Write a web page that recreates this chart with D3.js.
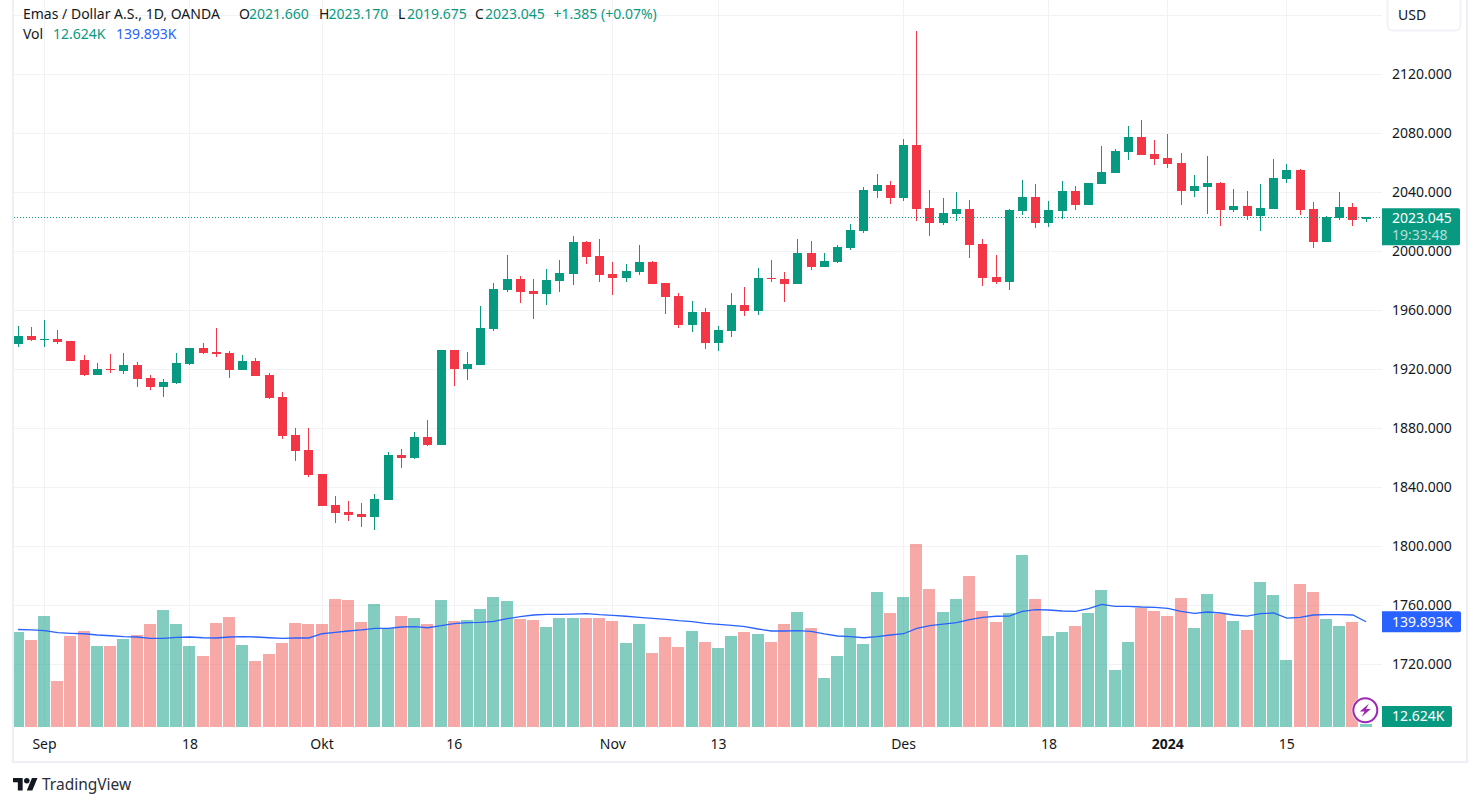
<!DOCTYPE html>
<html>
<head>
<meta charset="utf-8">
<script src="https://cdn.jsdelivr.net/npm/d3@7"></script>
<style>
  body { margin: 0; background: #fff; }
  svg { display: block; }
  text { font-family: "Noto Sans", Roboto, sans-serif; }
</style>
</head>
<body>
<svg id="chart" width="1480" height="806"></svg>
<script>
const opens = [
  1937.2, 1942.6, 1939.9, 1940.6, 1939.2, 1926.3, 1916.2, 1920.2, 1918.9, 1922.9,
  1914.1, 1908, 1910.7, 1923.6, 1934.5, 1931.8, 1931.1, 1919.5, 1925.6, 1916.2,
  1901.2, 1875.5, 1865.3, 1849, 1828, 1823.3, 1821.9, 1819.9, 1831.4, 1861.9,
  1859.9, 1874.1, 1868.7, 1933.1, 1920.2, 1922.9, 1947.3, 1973.8, 1981.2, 1973.1,
  1971.1, 1979.9, 1984.6, 2006.3, 1996.8, 1984.6, 1981.9, 1986, 1992.8, 1978.5,
  1969.7, 1950.1, 1958.9, 1937.9, 1946, 1963.6, 1959.5, 1981.9, 1981.2, 1977.9,
  1998.9, 1989.4, 1992.8, 2002.3, 2013.8, 2040.9, 2045, 2036.2, 2072.1, 2029.4,
  2019.2, 2025.3, 2028.7, 2005, 1982.6, 1979.2, 2027.3, 2036.8, 2019.2, 2027.3,
  2040.9, 2031.4, 2045.6, 2053.1, 2067.3, 2077.5, 2066, 2063.3, 2059.9, 2040.9,
  2043.6, 2046.3, 2028, 2030.7, 2024, 2028.7, 2049, 2055.1, 2028.7, 2006.3,
  2022.6, 2030.1, 2021.66,
];
const closes = [
  1942.6, 1939.9, 1940.6, 1938.5, 1925.6, 1916.2, 1920.2, 1919.5, 1922.9, 1913.4,
  1908, 1911.4, 1924.3, 1934.5, 1931.1, 1930.4, 1919.5, 1925.6, 1915.5, 1900.6,
  1874.8, 1864.6, 1848.4, 1827.3, 1822.6, 1821.2, 1819.9, 1832.1, 1861.9, 1859.9,
  1874.1, 1868.7, 1933.1, 1920.2, 1923.6, 1948, 1974.5, 1981.2, 1972.4, 1971.1,
  1980.6, 1985.3, 2006.3, 1996.2, 1984, 1981.9, 1986.7, 1992.8, 1977.9, 1969,
  1950.1, 1958.9, 1937.9, 1946.7, 1963.6, 1959.5, 1981.9, 1981.2, 1977.9, 1998.9,
  1989.4, 1993.4, 2002.9, 2014.5, 2041.6, 2045, 2036.2, 2072.1, 2028.7, 2019.2,
  2026, 2028.7, 2004.3, 1981.9, 1979.2, 2028, 2036.8, 2019.2, 2028, 2040.9,
  2031.4, 2046.3, 2053.8, 2068, 2077.5, 2065.3, 2062.6, 2059.3, 2040.9, 2044.3,
  2046.3, 2028, 2030.7, 2024, 2029.4, 2049.7, 2055.1, 2028, 2006.3, 2023.3,
  2030.1, 2021.2, 2023.045,
];
const highs = [
  1949.4, 1948.7, 1953.4, 1946.7, 1939.2, 1929.7, 1924.3, 1930.4, 1931.1, 1925,
  1916.2, 1913.4, 1931.1, 1934.5, 1937.9, 1948, 1932.4, 1929.7, 1927.7, 1917.5,
  1904.6, 1880.2, 1880.2, 1849, 1834.1, 1830.7, 1829.4, 1835.5, 1864, 1866,
  1877.5, 1885.6, 1933.1, 1933.1, 1931.8, 1962.9, 1978.5, 1997.5, 1983.3, 1981.2,
  1988, 1994.1, 2010.4, 2007, 2008.4, 1992.8, 1991.4, 2004.3, 1993.4, 1978.5,
  1971.8, 1966.3, 1961.6, 1949.4, 1971.8, 1975.8, 1988.7, 1994.1, 1986, 2008.4,
  2007, 1998.9, 2004.3, 2018.5, 2043.6, 2052.4, 2047.7, 2076.2, 2149.4, 2041.6,
  2036.2, 2040.2, 2034.8, 2008.4, 1997.5, 2028.7, 2048.4, 2045.6, 2034.1, 2047.7,
  2044.3, 2046.3, 2071.4, 2069.4, 2085, 2089, 2075.5, 2079.5, 2066.7, 2051.8,
  2064.6, 2047, 2042.3, 2040.9, 2045.6, 2062.6, 2059.2, 2055.8, 2033.4, 2024,
  2040.2, 2032.8, 2023.17,
];
const lows = [
  1935.4, 1939.2, 1935.4, 1937.2, 1925.6, 1915.5, 1916.2, 1917.5, 1916.8, 1908,
  1906, 1901.2, 1910, 1922.9, 1930.4, 1928.4, 1914.1, 1919.5, 1915.5, 1899.9,
  1872.8, 1857.9, 1847, 1827.3, 1815.8, 1817.2, 1813.1, 1811, 1831.4, 1853.1,
  1859.2, 1868, 1868.7, 1908.7, 1912.8, 1922.9, 1946, 1972.4, 1965, 1954.1,
  1963.6, 1972.4, 1977.2, 1991.4, 1979.2, 1970.4, 1979.2, 1984, 1977.9, 1957.5,
  1948, 1945.3, 1933.8, 1932.4, 1941.9, 1956.2, 1956.8, 1979.2, 1965.6, 1977.9,
  1987.3, 1989.4, 1992.1, 2000.9, 2012.4, 2036.2, 2032.1, 2034.1, 2020.6, 2010.4,
  2017.9, 2020.6, 1995.5, 1976.5, 1977.9, 1973.8, 2024.6, 2015.8, 2016.5, 2021.9,
  2028, 2031.4, 2045.6, 2053.1, 2061.9, 2065.3, 2058.5, 2056.5, 2031.4, 2036.8,
  2025.3, 2017.2, 2026.7, 2021.2, 2013.8, 2028.7, 2046.3, 2024.6, 2002.3, 2006.3,
  2021.2, 2017.2, 2019.675,
];
// volume, in thousands
const volumes = [
  127.1, 117.1, 147, 65.9, 122.1, 128.3, 109.6, 109.6, 118.3, 123.3,
  137, 154.5, 137, 109.6, 97.1, 138.3, 145.8, 110.8, 90.9, 99.6,
  113.3, 138.3, 137, 137, 168.2, 167, 139.5, 162, 132.1, 147,
  144.5, 137, 167, 140.8, 142, 155.8, 170.7, 165.7, 143.3, 142,
  133.3, 144.5, 144.5, 144.5, 144.5, 140.8, 113.3, 137, 100.9, 120.8,
  108.3, 128.3, 114.6, 107.1, 122.1, 127.1, 124.6, 114.6, 137, 152,
  132.1, 69.7, 97.1, 132.1, 112.1, 177, 150.8, 170.7, 236.9, 180.7,
  152, 168.2, 196.9, 153.3, 139.5, 150.8, 223.2, 168.2, 122.1, 127.1,
  134.5, 150.8, 179.5, 79.6, 114.6, 157, 153.3, 147, 169.5, 132.1,
  174.5, 149.5, 140.8, 129.6, 189.5, 173.2, 92.1, 187, 177, 143.3,
  134.5, 139.5, 12.624,
];
const volumeAvg = [
  130.2, 129.6, 128.7, 126.2, 125.4, 124.9, 123.3, 122.4, 121.2, 120.8,
  119.2, 119.2, 120.4, 120.8, 119.9, 119.6, 120.8, 121.2, 120.8, 119.9,
  119.2, 119.6, 119.6, 124.9, 126.7, 128.3, 129.6, 131.7, 131.7, 133.3,
  133.7, 132.4, 134.9, 137.4, 138.7, 139.2, 140.4, 143.7, 146.2, 148.3,
  149.1, 149.1, 149.5, 149.9, 148.7, 147.9, 146.7, 145.4, 144.2, 142.9,
  141.2, 139.9, 137.9, 136.7, 135.4, 133.7, 130.8, 128.3, 128.3, 128.7,
  127.9, 124.6, 122.1, 121.2, 119.9, 121.2, 123.3, 124.9, 131.7, 134.9,
  137, 138.7, 142.4, 145.4, 146.7, 147, 152.9, 154.9, 154.5, 153.3,
  152.9, 156.1, 161.6, 159.1, 159.1, 158.3, 157.9, 156.6, 152.9, 150.4,
  152, 150.8, 148.3, 147, 149.9, 150.8, 144.5, 145.4, 148.3, 148.7,
  148.7, 148.3, 139.893,
];
const priceTicks = [2120, 2080, 2040, 2000, 1960, 1920, 1880, 1840, 1800, 1760, 1720];
const priceGrid = [2160, ...priceTicks];
const timeTicks = [2, 13, 23, 33, 45, 53, 67, 78, 87, 96];
const timeLabels = ['Sep', '18', 'Okt', '16', 'Nov', '13', 'Des', '18', '2024', '15'];

const GREEN = '#089981';
const RED = '#f23645';
const RED_VOL = '#ef5350';
const BLUE = '#2962ff';
const GRID = '#f1f2f5';
const TEXT = '#131722';

const lastPrice = closes[closes.length - 1];
const lastVol = volumes[volumes.length - 1];
const lastAvg = volumeAvg[volumeAvg.length - 1];

const svg = d3.select('#chart');

const x = d3.scaleLinear().domain([0, opens.length - 1]).range([17.6, 1365.6]);
const y = d3.scaleLinear().domain([1920, 2120]).range([369.3, 74.3]);
const yVol = d3.scaleLinear().domain([8.5, 236.9]).range([727, 544]);

const isUp = (i) => closes[i] >= opens[i];
const idx = d3.range(opens.length);

svg.append('clipPath').attr('id', 'pane')
  .append('rect').attr('x', 14).attr('y', 0).attr('width', 1368).attr('height', 727);

// grid
const grid = svg.append('g').attr('stroke', GRID).attr('shape-rendering', 'crispEdges');
grid.selectAll('.v').data(timeTicks).join('line')
  .attr('x1', (d) => x(d) + 0.5).attr('x2', (d) => x(d) + 0.5).attr('y1', 0).attr('y2', 727);
grid.selectAll('.h').data(priceGrid).join('line')
  .attr('x1', 14).attr('x2', 1382).attr('y1', (d) => y(d)).attr('y2', (d) => y(d));

const pane = svg.append('g').attr('clip-path', 'url(#pane)');

// volume
pane.append('g').attr('shape-rendering', 'crispEdges').selectAll('rect').data(idx).join('rect')
  .attr('x', (i) => Math.round(x(i)) - 6)
  .attr('width', 12)
  .attr('y', (i) => yVol(volumes[i]))
  .attr('height', (i) => 727 - yVol(volumes[i]))
  .attr('fill', (i) => (isUp(i) ? GREEN : RED_VOL))
  .attr('fill-opacity', 0.5);

// candles
const candles = pane.append('g').attr('shape-rendering', 'crispEdges');
candles.selectAll('line').data(idx).join('line')
  .attr('x1', (i) => Math.round(x(i)) + 0.5)
  .attr('x2', (i) => Math.round(x(i)) + 0.5)
  .attr('y1', (i) => y(highs[i]))
  .attr('y2', (i) => y(lows[i]))
  .attr('stroke', (i) => (isUp(i) ? GREEN : RED));
candles.selectAll('rect').data(idx).join('rect')
  .attr('x', (i) => Math.round(x(i)) - 4)
  .attr('width', 9)
  .attr('y', (i) => y(Math.max(opens[i], closes[i])))
  .attr('height', (i) => Math.max(1, Math.abs(y(opens[i]) - y(closes[i]))))
  .attr('fill', (i) => (isUp(i) ? GREEN : RED));

// volume average
pane.append('path')
  .attr('d', d3.line().x((i) => x(i) + 0.5).y((i) => yVol(volumeAvg[i]))(idx))
  .attr('fill', 'none')
  .attr('stroke', BLUE)
  .attr('stroke-width', 1.3);

// last price line
svg.append('line')
  .attr('x1', 14).attr('x2', 1382)
  .attr('y1', y(lastPrice)).attr('y2', y(lastPrice))
  .attr('stroke', GREEN)
  .attr('shape-rendering', 'crispEdges')
  .attr('stroke-dasharray', '1 2');

// axes
const priceAxis = d3.axisRight(y).tickValues(priceTicks).tickSize(0).tickPadding(10)
  .tickFormat(d3.format('.3f'));
svg.append('g').attr('transform', 'translate(1382,0)').call(priceAxis)
  .call((g) => g.select('.domain').remove())
  .selectAll('text').attr('fill', TEXT).attr('font-size', 14);

const timeAxis = d3.axisBottom(x).tickValues(timeTicks).tickSize(0).tickPadding(0)
  .tickFormat((d, i) => timeLabels[i]);
svg.append('g').attr('transform', 'translate(0,739)').call(timeAxis)
  .call((g) => g.select('.domain').remove())
  .selectAll('text')
  .attr('fill', TEXT).attr('font-size', 14)
  .attr('font-weight', (d, i) => (timeLabels[i] === '2024' ? 700 : 400));

// frame
const frame = svg.append('g').attr('fill', '#eeeff5');
frame.append('rect').attr('x', 12).attr('y', 0).attr('width', 2).attr('height', 763);
frame.append('rect').attr('x', 1466).attr('y', 0).attr('width', 2).attr('height', 763);
frame.append('rect').attr('x', 12).attr('y', 761).attr('width', 1456).attr('height', 2);

// currency button
svg.append('rect').attr('x', 1387.5).attr('y', -6).attr('width', 73).attr('height', 36.5).attr('rx', 5)
  .attr('fill', '#fff').attr('stroke', GRID).attr('stroke-width', 2);
svg.append('text').attr('x', 1398).attr('y', 19.5).attr('font-size', 14).attr('fill', TEXT).text('USD');

// axis labels
function axisBox(top, height, width, color) {
  svg.append('path')
    .attr('d', `M1382,${top}h${width - 2}q2,0 2,2v${height - 4}q0,2 -2,2h-${width - 2}z`)
    .attr('fill', color);
}
function axisText(yPos, text, fill) {
  svg.append('text').attr('x', 1392).attr('y', yPos).attr('dy', '0.35em')
    .attr('font-size', 14).attr('fill', fill).text(text);
}
axisBox(y(lastPrice) - 9, 37, 78, GREEN);
axisText(y(lastPrice) + 1, d3.format('.3f')(lastPrice), '#fff');
axisText(y(lastPrice) + 18, '19:33:48', 'rgba(255,255,255,0.7)');
axisBox(yVol(lastAvg) - 10.5, 21, 79, BLUE);
axisText(yVol(lastAvg), `${d3.format('.3f')(lastAvg)}K`, '#fff');
axisBox(706, 21, 70, GREEN);
axisText(716.5, `${d3.format('.3f')(lastVol)}K`, '#fff');

// lightning badge
const badge = svg.append('g').attr('transform', 'translate(1365.3,710.3)');
badge.append('circle').attr('r', 13.5).attr('fill', '#fff');
badge.append('circle').attr('r', 12).attr('fill', '#fff').attr('stroke', '#9c27b0').attr('stroke-width', 2);
badge.append('path').attr('d', 'M3.5,-6.5 L-5.5,1.2 L-0.8,1.2 L-3.5,6.5 L5.5,-1.2 L0.8,-1.2 Z').attr('fill', '#9c27b0');

// legend
const legend = svg.append('g').attr('font-size', 14);
function legendText(xPos, yPos, text, fill) {
  legend.append('text').attr('x', xPos).attr('y', yPos).attr('dy', '0.35em').attr('fill', fill).text(text);
}
legendText(23, 14, 'Emas / Dollar A.S., 1D, OANDA', TEXT);
legendText(239, 14, 'O', TEXT);
legendText(249, 14, '2021.660', GREEN);
legendText(319, 14, 'H', TEXT);
legendText(328.5, 14, '2023.170', GREEN);
legendText(398, 14, 'L', TEXT);
legendText(407, 14, '2019.675', GREEN);
legendText(475, 14, 'C', TEXT);
legendText(485, 14, '2023.045', GREEN);
legendText(553.5, 14, '+1.385 (+0.07%)', GREEN);
legendText(23, 34, 'Vol', TEXT);
legendText(53, 34, '12.624K', GREEN);
legendText(116, 34, '139.893K', BLUE);

// logo
const logo = svg.append('g').attr('transform', 'translate(13,773.9) scale(0.69)').attr('fill', TEXT);
logo.append('path').attr('d', 'M14 6H0v6h7v12h7V6zM28 24h-8l7.5-18h8L28 24z');
logo.append('circle').attr('cx', 20).attr('cy', 10).attr('r', 4);
svg.append('text').attr('x', 42).attr('y', 790).attr('font-size', 15.5).attr('fill', '#2a2e39').text('TradingView');
</script>
</body>
</html>
